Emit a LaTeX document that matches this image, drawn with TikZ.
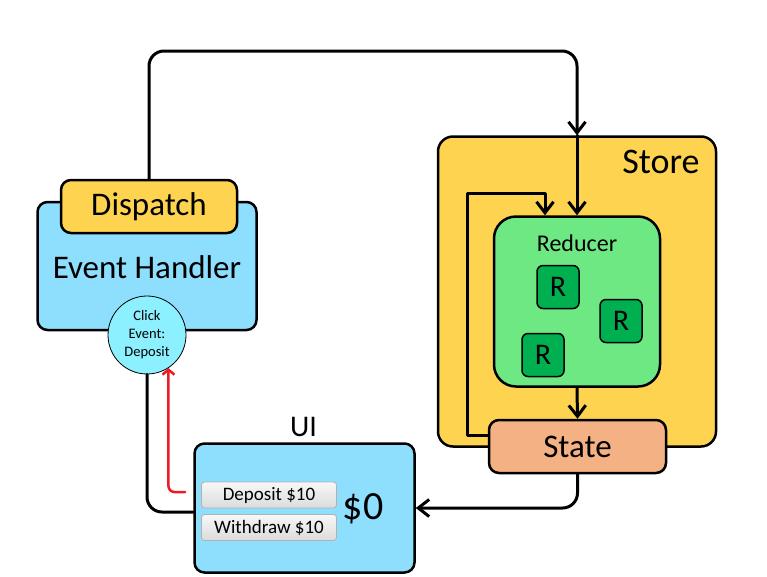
\documentclass[tikz,border=0pt]{standalone}
\usepackage{fontspec}
\setmainfont{Carlito}
\usetikzlibrary{arrows.meta}
\usetikzlibrary{positioning}
\definecolor{handlerblue}{RGB}{142,222,254}
\definecolor{clickcyan}{RGB}{141,240,255}
\definecolor{storeyellow}{RGB}{254,211,80}
\definecolor{reducergreen}{RGB}{110,232,130}
\definecolor{rgreen}{RGB}{0,176,80}
\definecolor{statesalmon}{RGB}{244,177,131}
\definecolor{clickred}{RGB}{236,28,36}

\begin{document}
\begin{tikzpicture}[line cap=round,line join=round,>={Straight Barb[length=11pt,width=17pt]},x=1pt,y=-1pt,
  box/.style={draw,line width=2.5pt,rounded corners=10pt,inner sep=0pt},
  flow/.style={line width=3pt},
  redflow/.style={draw=clickred,line width=2.5pt,-{Straight Barb[length=5pt,width=12pt]}},
  rbox/.style={draw,line width=1.5pt,fill=rgreen,rounded corners=6pt,minimum width=42pt,minimum height=43pt,inner sep=0pt,font=\fontsize{30}{30}\selectfont},
  button/.style={draw=gray!60,line width=0.8pt,rounded corners=3pt,top color=gray!6,bottom color=gray!28,minimum width=135pt,minimum height=26pt,inner sep=0pt,font=\fontsize{19}{19}\selectfont}]
\useasboundingbox (0,0) rectangle (767,576);
\node[box,fill=storeyellow,rounded corners=15pt,minimum width=278pt,minimum height=310pt] (store) at (577,291.5) {};
\node[anchor=base,font=\fontsize{36}{36}\selectfont] (storetxt) at (661,173) {Store};
\node[box,fill=reducergreen,rounded corners=22pt,minimum width=166pt,minimum height=170pt] (reducer) at (577,301.5) {};
\node[anchor=base,font=\fontsize{24}{24}\selectfont] (reducertxt) at (577,251.7) {Reducer};
\foreach \name/\x/\y in {r1/558/287,r2/621/321,r3/543/355}
\node[rbox] (\name) at (\x,\y) {R};
\node[box,fill=statesalmon,minimum width=177pt,minimum height=53pt,font=\fontsize{33}{33}\selectfont] (state) at (577.5,446.5) {State};
\coordinate (loopcorner) at (467,193);
\draw[flow,->] ([yshift=11pt]state.west) -| (loopcorner) -| ([xshift=-32pt]reducer.north);
\draw[flow,->] (reducer.south) -- (state.north);
\node[box,fill=handlerblue,minimum width=219pt,minimum height=128pt] (handler) at (147,266) {};
\node[anchor=base,font=\fontsize{33}{33}\selectfont] (handlertxt) at (147,278.5) {Event Handler};
\node[box,fill=storeyellow,minimum width=176pt,minimum height=53pt,text height=22pt,text depth=4pt,font=\fontsize{33}{33}\selectfont] (dispatch) at (149,206.5) {Dispatch};
\coordinate (topright) at (577,51);
\draw[flow,->,rounded corners=15pt] (dispatch.north) |- (topright) -- (store.north);
\draw[flow,->] (store.north) -- (reducer.north);
\node[circle,draw,line width=0.8pt,fill=clickcyan,minimum size=78pt,inner sep=0pt,align=center,font=\fontsize{14.5}{18}\selectfont] (click) at (147,335) {Click\\Event:\\Deposit};
\node[box,fill=handlerblue,minimum width=220pt,minimum height=129pt] (ui) at (304.5,508) {};
\node[anchor=base,font=\fontsize{30}{30}\selectfont] (uitxt) at (303.5,436) {UI};
\node[button] (dep) at (269,495) {Deposit \$10};
\node[button] (wd) at (269,527.5) {Withdraw \$10};
\node[anchor=base,font=\fontsize{40}{40}\selectfont] (amount) at (363,519) {\$0};
\draw[flow,rounded corners=15pt] ([yshift=-4pt]ui.west) -| (click.south);
\draw[redflow,rounded corners=6pt] ([xshift=-16pt,yshift=3pt]dep.west) -| (click.-57);
\draw[flow,->,rounded corners=15pt] (state.south) |- (ui.east);
\end{tikzpicture}
\end{document}
